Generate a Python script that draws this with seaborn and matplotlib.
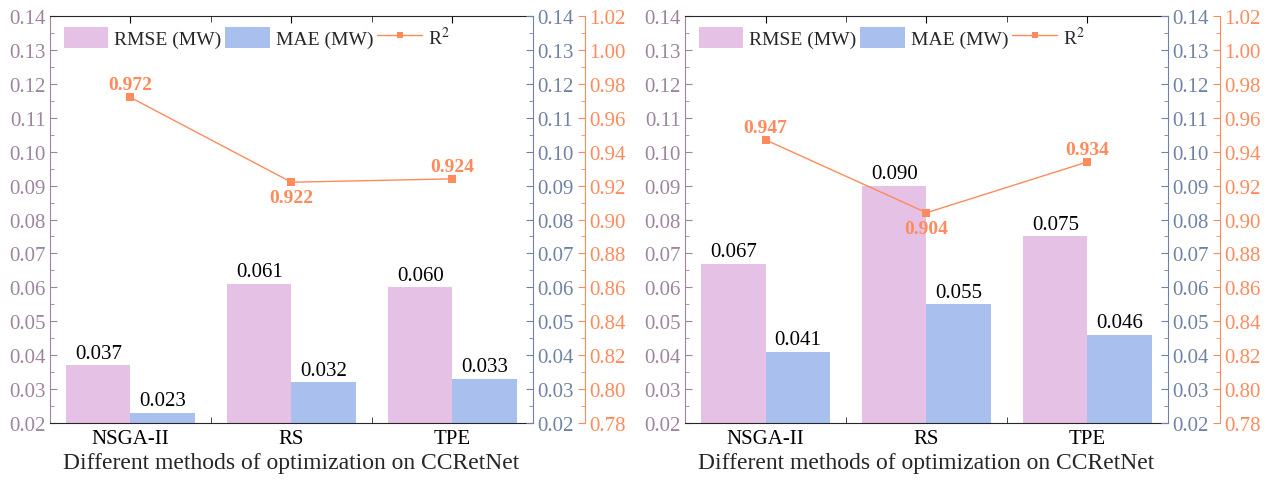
import numpy as np
import pandas as pd
import matplotlib
matplotlib.use("Agg")
import matplotlib.pyplot as plt
from matplotlib.ticker import MultipleLocator, FixedLocator, FormatStrFormatter
from matplotlib.patches import Patch
from matplotlib.lines import Line2D
import seaborn as sns

categories = ["NSGA-II", "RS", "TPE"]
rmse_a = [0.037, 0.061, 0.060]
mae_a = [0.023, 0.032, 0.033]
r2_a = [0.972, 0.922, 0.924]
rmse_b = [0.067, 0.090, 0.075]
mae_b = [0.041, 0.055, 0.046]
r2_b = [0.947, 0.904, 0.934]
series_names = ["RMSE (MW)", "MAE (MW)"]
xlabel = "Different methods of optimization on CCRetNet"

PINK = "#E6C1E6"
BLUE = "#A9C0EE"
ORANGE = "#FF8A5B"
LEFTC = "#9E849E"
RIGHTC = "#7082A3"

sns.set_style("ticks")
plt.rcParams["font.family"] = ["Liberation Serif", "DejaVu Serif"]
plt.rcParams["mathtext.fontset"] = "stix"

fig = plt.figure(figsize=(12.69, 4.81), dpi=100)
TICKFS = 15

def style_y(axx, color, major, minor, lo, hi):
    axx.set_ylim(lo, hi)
    axx.yaxis.set_major_locator(MultipleLocator(major))
    axx.yaxis.set_minor_locator(MultipleLocator(minor))
    axx.yaxis.set_major_formatter(FormatStrFormatter("%.2f"))
    axx.tick_params(axis="y", which="both", direction="in", colors=color,
                    labelsize=TICKFS, pad=3)
    axx.tick_params(axis="y", which="major", length=5)
    axx.tick_params(axis="y", which="minor", length=3)

def panel(left, rmse, mae, r2, below_idx):
    ax = fig.add_axes([left, 0.1185, 0.3806, 0.846])
    df = pd.DataFrame({
        "method": categories * 2,
        "value": list(rmse) + list(mae),
        "metric": [series_names[0]] * 3 + [series_names[1]] * 3,
    })
    sns.barplot(data=df, x="method", y="value", hue="metric", ax=ax,
                palette=[PINK, BLUE], saturation=1, width=0.8, legend=False,
                linewidth=0)
    for c in ax.containers:
        ax.bar_label(c, fmt="%.3f", padding=2, fontsize=15, color="black")
    ax.set_xlim(-0.5, 2.5)
    style_y(ax, LEFTC, 0.01, 0.005, 0.02, 0.14)
    ax.xaxis.set_minor_locator(FixedLocator([0.5, 1.5]))
    ax.tick_params(axis="x", which="major", direction="in", length=5,
                   top=True, labelsize=TICKFS, colors="black", pad=4)
    ax.tick_params(axis="x", which="minor", direction="in", length=4,
                   top=True, bottom=True)
    ax.set_xlabel(xlabel, fontsize=17, labelpad=3)
    ax.set_ylabel("")
    ax.spines["left"].set_color(LEFTC)
    ax.spines["right"].set_visible(False)

    ax2 = ax.twinx()
    style_y(ax2, RIGHTC, 0.01, 0.005, 0.02, 0.14)
    ax2.spines["right"].set_color(RIGHTC)
    for k in ["left", "top", "bottom"]:
        ax2.spines[k].set_visible(False)

    ax3 = ax.twinx()
    ax3.spines["right"].set_position(("outward", 52 * 0.72))
    for k in ["left", "top", "bottom"]:
        ax3.spines[k].set_visible(False)
    ax3.spines["right"].set_color(ORANGE)
    ldf = pd.DataFrame({"method": categories, "r2": r2})
    sns.lineplot(data=ldf, x="method", y="r2", ax=ax3, color=ORANGE,
                 marker="s", markersize=6, markeredgewidth=0, linewidth=1.0)
    style_y(ax3, ORANGE, 0.02, 0.01, 0.78, 1.02)
    ax3.set_ylabel("")
    ax3.set_xlabel(xlabel, fontsize=17, labelpad=3)
    ax3.set_xlim(-0.5, 2.5)
    for i, v in enumerate(r2):
        if i == below_idx:
            ax3.annotate(f"{v:.3f}", (i, v), xytext=(0, -5),
                         textcoords="offset points", ha="center", va="top",
                         color=ORANGE, fontsize=14, fontweight="bold")
        else:
            ax3.annotate(f"{v:.3f}", (i, v), xytext=(0, 3),
                         textcoords="offset points", ha="center", va="bottom",
                         color=ORANGE, fontsize=14, fontweight="bold")

    handles = [Patch(facecolor=PINK, edgecolor="none"),
               Patch(facecolor=BLUE, edgecolor="none"),
               Line2D([0], [0], color=ORANGE, marker="s", markersize=5,
                      markeredgewidth=0, linewidth=1.0)]
    ax3.legend(handles, series_names + ["R$^2$"], loc="upper left",
               ncol=3, frameon=False, fontsize=14, handlelength=2.3,
               handleheight=1.3, columnspacing=0.2, handletextpad=0.3,
               bbox_to_anchor=(0.008, 1.0), borderaxespad=0.2, borderpad=0.3)

panel(0.0394, rmse_a, mae_a, r2_a, 1)
panel(0.5398, rmse_b, mae_b, r2_b, 1)

fig.savefig("out.png", dpi=100)
